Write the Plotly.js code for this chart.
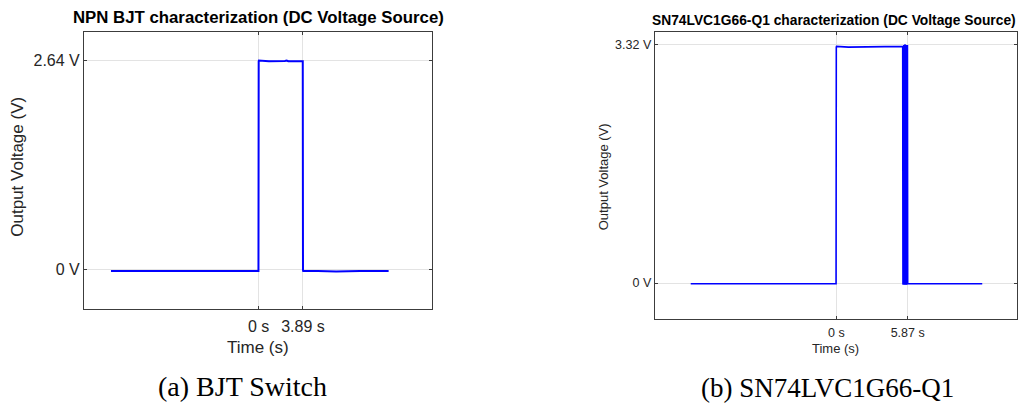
<!DOCTYPE html>
<html>
<head>
<meta charset="utf-8">
<script src="https://cdn.plot.ly/plotly-3.0.1.min.js"></script>
<style>
  html, body { margin: 0; padding: 0; background: #ffffff; }
  #chart { width: 1023px; height: 406px; }
</style>
</head>
<body>
<div id="chart"></div>
<script>
// ---- Data ----
// (a) NPN BJT switch: output voltage vs time (s)
const bjtTime = [-12.97, -10.6, -8.2, -6.5, -4.1, -2.0, -0.02, 0.0, 0.02, 0.9, 1.8, 2.3, 2.45, 2.6, 3.2, 3.87, 3.89, 3.91, 5.2, 6.8, 8.9, 10.2, 11.41];
const bjtVolt = [-0.02, -0.02, -0.025, -0.02, -0.02, -0.02, -0.02, 2.63, 2.64, 2.63, 2.63, 2.635, 2.64, 2.63, 2.63, 2.63, -0.01, -0.02, -0.02, -0.025, -0.02, -0.02, -0.02];
const bjtTickTimes = [0, 3.89];
const bjtTickTimeLabels = ['0 s', '3.89 s'];
const bjtTickVolts = [0, 2.64];
const bjtTickVoltLabels = ['0 V', '2.64 V'];

// (b) SN74LVC1G66-Q1: output voltage vs time (s)
const swTime = [-11.97, -9.0, -6.1, -3.3, -0.02, 0.0, 0.02, 1.0, 2.1, 3.3, 4.4, 5.46, 5.48, 5.50, 5.52, 5.55, 5.57, 5.60, 5.62, 5.65, 5.67, 5.70, 5.72, 5.75, 5.77, 5.80, 5.82, 5.85, 5.87, 5.90, 7.4, 9.1, 10.6, 12.0];
const swVolt = [-0.01, -0.01, -0.01, -0.01, -0.01, 3.28, 3.29, 3.28, 3.28, 3.29, 3.28, 3.29, -0.01, 3.30, -0.02, 3.31, -0.01, 3.30, -0.02, 3.32, -0.01, 3.30, -0.02, 3.31, -0.01, 3.30, -0.02, 3.31, -0.01, -0.01, -0.02, -0.01, -0.01, -0.01];
const swTickTimes = [0, 5.87];
const swTickTimeLabels = ['0 s', '5.87 s'];
const swTickVolts = [0, 3.32];
const swTickVoltLabels = ['0 V', '3.32 V'];

const titles = ['NPN BJT characterization (DC Voltage Source)', 'SN74LVC1G66-Q1 characterization (DC Voltage Source)'];
const captions = ['(a) BJT Switch', '(b) SN74LVC1G66-Q1'];
const xTitle = 'Time (s)';
const yTitle = 'Output Voltage (V)';

// ---- Styling ----
const ink = '#262626';
const sans = 'Liberation Sans, Arial, Helvetica, sans-serif';
const serif = 'Liberation Serif, Times New Roman, serif';

const traces = [
  { x: bjtTime, y: bjtVolt, type: 'scatter', mode: 'lines', xaxis: 'x', yaxis: 'y',
    line: { color: '#0000ff', width: 2 }, hoverinfo: 'skip', showlegend: false },
  { x: swTime, y: swVolt, type: 'scatter', mode: 'lines', xaxis: 'x2', yaxis: 'y2',
    line: { color: '#0000ff', width: 1.6 }, hoverinfo: 'skip', showlegend: false }
];

function axis(extra, size) {
  return Object.assign({
    showline: true, mirror: 'ticks', linecolor: '#3c3c3c', linewidth: 1,
    showgrid: true, gridcolor: '#e3e3e3', gridwidth: 1, zeroline: false,
    ticks: 'inside', ticklen: 3, tickcolor: '#3c3c3c', tickwidth: 1,
    tickmode: 'array', tickfont: { family: sans, size: size, color: ink },
    fixedrange: true
  }, extra);
}

function ann(text, x, y, size, opts) {
  return Object.assign({
    text: text, x: x, y: y, xref: 'paper', yref: 'paper',
    xanchor: 'center', yanchor: 'middle', showarrow: false,
    font: { family: sans, size: size, color: ink }
  }, opts || {});
}

const layout = {
  width: 1023, height: 406,
  margin: { l: 0, r: 0, t: 0, b: 0 },
  paper_bgcolor: '#ffffff', plot_bgcolor: '#ffffff',
  showlegend: false,
  xaxis: axis({ domain: [0.0821, 0.4223], range: [-15.34, 15.22], anchor: 'y',
    tickvals: bjtTickTimes, ticktext: bjtTickTimeLabels, ticklabelstandoff: 3 }, 16),
  yaxis: axis({ domain: [0.2389, 0.9212], range: [-0.5, 3.0], anchor: 'x',
    tickvals: bjtTickVolts, ticktext: bjtTickVoltLabels }, 16),
  xaxis2: axis({ domain: [0.64, 0.9944], range: [-14.93, 14.88], anchor: 'y2',
    tickvals: swTickTimes, ticktext: swTickTimeLabels, ticklabelstandoff: 2 }, 12.5),
  yaxis2: axis({ domain: [0.2143, 0.9212], range: [-0.5, 3.49], anchor: 'x2',
    tickvals: swTickVolts, ticktext: swTickVoltLabels }, 12.5),
  annotations: [
    ann('<b>' + titles[0] + '</b>', 0.253, 0.9574, 16.8, { font: { family: sans, size: 16.8, color: '#000000' } }),
    ann('<b>' + titles[1] + '</b>', 0.8157, 0.9507, 13.8, { font: { family: sans, size: 13.8, color: '#000000' } }),
    ann(xTitle, 0.2525, 0.1446, 17),
    ann(yTitle, 0.0176, 0.5894, 17, { textangle: -90 }),
    ann(xTitle, 0.817, 0.1404, 13),
    ann(yTitle, 0.5897, 0.564, 13, { textangle: -90 }),
    ann(captions[0], 0.2368, 0.0475, 28, { font: { family: serif, size: 28, color: '#000000' } }),
    ann(captions[1], 0.8089, 0.0436, 27, { font: { family: serif, size: 27, color: '#000000' } })
  ]
};

Plotly.newPlot('chart', traces, layout, { displayModeBar: false, staticPlot: true });
</script>
</body>
</html>
